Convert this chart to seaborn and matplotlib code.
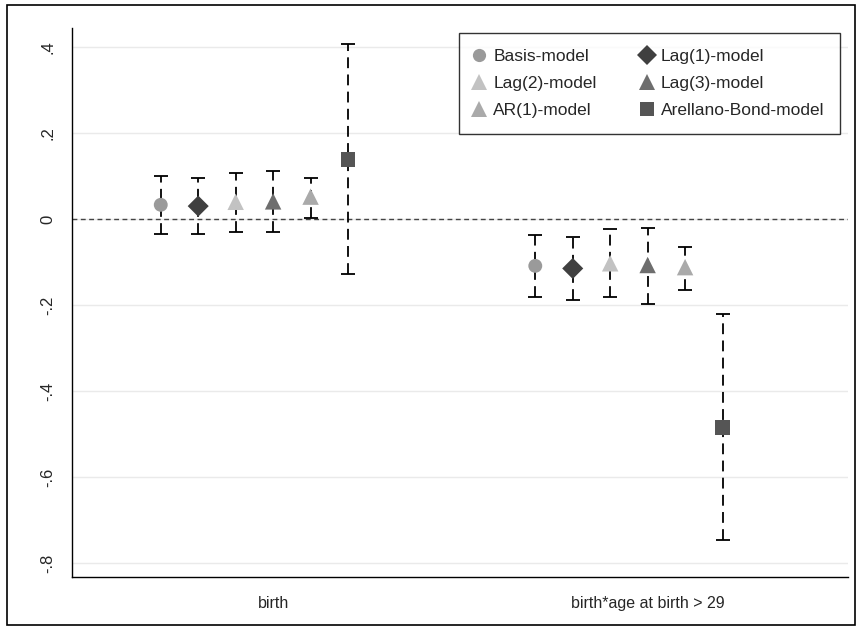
import matplotlib
matplotlib.use("Agg")
import matplotlib.pyplot as plt
import seaborn as sns
import pandas as pd
import numpy as np
from matplotlib.patches import Rectangle
from matplotlib.lines import Line2D

# ---- data ----
terms = ["birth", "birth*age at birth > 29"]
models = ["Basis-model", "Lag(1)-model", "Lag(2)-model", "Lag(3)-model",
          "AR(1)-model", "Arellano-Bond-model"]
coef_birth = [0.033, 0.030, 0.040, 0.041, 0.052, 0.139]
lo_birth = [-0.035, -0.035, -0.030, -0.031, 0.003, -0.127]
hi_birth = [0.101, 0.096, 0.106, 0.111, 0.096, 0.406]
coef_age = [-0.109, -0.115, -0.103, -0.107, -0.112, -0.485]
lo_age = [-0.182, -0.188, -0.182, -0.198, -0.165, -0.747]
hi_age = [-0.038, -0.041, -0.024, -0.021, -0.064, -0.222]
yticks = [0.4, 0.2, 0.0, -0.2, -0.4, -0.6, -0.8]
ytick_labels = [".4", ".2", "0", "-.2", "-.4", "-.6", "-.8"]

colors = ["#9a9a9a", "#404040", "#c2c2c2", "#6e6e6e", "#aaaaaa", "#555555"]
markers = ["o", "D", "^", "^", "^", "s"]
sizes = [100, 115, 140, 140, 140, 110]

rows = []
for g, (c, l, h) in enumerate([(coef_birth, lo_birth, hi_birth), (coef_age, lo_age, hi_age)]):
    for i, m in enumerate(models):
        rows.append(dict(term=terms[g], model=m, pos=g + (i - 3) * 0.1,
                         coef=c[i], lo=l[i], hi=h[i]))
df = pd.DataFrame(rows)

sns.set_style("white")
plt.rcParams["font.family"] = ["Liberation Sans", "DejaVu Sans"]

fig = plt.figure(figsize=(8.61, 6.32), dpi=100)
top_px, bot_px = 28, 577
ax = fig.add_axes([72/861, 1 - bot_px/632, (848-72)/861, (bot_px-top_px)/632])

# grid
for yv in yticks:
    ax.axhline(yv, color="#eaeaea", lw=1.0, zorder=0)
ax.axhline(0, color="#444444", lw=1.0, ls=(0, (3.5, 2.5)), zorder=1)

# error bars
for i, m in enumerate(models):
    d = df[df.model == m]
    eb = ax.errorbar(d["pos"], d["coef"],
                     yerr=[d["coef"] - d["lo"], d["hi"] - d["coef"]],
                     fmt="none", ecolor="black", elinewidth=1.3,
                     capsize=5, capthick=1.3, zorder=2)
    eb[2][0].set_linestyle((0, (6, 3.5)))

# points
sns.scatterplot(data=df, x="pos", y="coef", hue="model", style="model",
                hue_order=models, style_order=models,
                palette=dict(zip(models, colors)),
                markers=dict(zip(models, markers)),
                size="model", sizes=dict(zip(models, sizes)),
                edgecolor="none", linewidth=0, ax=ax, zorder=3, legend=False)

y_top = (219 - top_px) / 430
y_bot = (219 - bot_px) / 430
ax.set_xlim(-0.537, 1.535)
ax.set_ylim(y_bot, y_top)
ax.set_xticks([0, 1])
ax.set_xticklabels(terms, fontsize=11.5)
ax.set_yticks(yticks)
ax.set_yticklabels(ytick_labels, fontsize=12, rotation=90, va="center")
ax.tick_params(axis="both", direction="out", length=7, width=1, color="black")
ax.tick_params(axis="x", pad=7)
ax.tick_params(axis="y", pad=5)
ax.set_xlabel("")
ax.set_ylabel("")
for s in ["top", "right"]:
    ax.spines[s].set_visible(False)
for s in ["left", "bottom"]:
    ax.spines[s].set_color("black")
    ax.spines[s].set_linewidth(1.0)

# legend (row-wise order in 2 columns)
handles = [Line2D([], [], ls="none", marker=mk, color=c, markersize=np.sqrt(s) * 0.95,
                  markeredgewidth=0)
           for mk, c, s in zip(markers, colors, sizes)]
order = [0, 2, 4, 1, 3, 5]
leg = ax.legend([handles[k] for k in order], [models[k] for k in order],
                ncol=2, loc="upper right",
                bbox_to_anchor=((840-72)/(848-72), 1 - (33-top_px)/(bot_px-top_px)),
                frameon=True, fancybox=False, edgecolor="black", fontsize=12.5,
                handletextpad=0.5, columnspacing=2.6, labelspacing=0.7,
                borderpad=0.9, handlelength=0.6, borderaxespad=0)
leg.get_frame().set_linewidth(1.0)

# outer frame
fig.patches.append(Rectangle((7/861, 1 - 625/632), (855-7)/861, (625-5)/632,
                             transform=fig.transFigure, fill=False,
                             edgecolor="black", lw=1.2))

fig.savefig("out.png", dpi=100)
